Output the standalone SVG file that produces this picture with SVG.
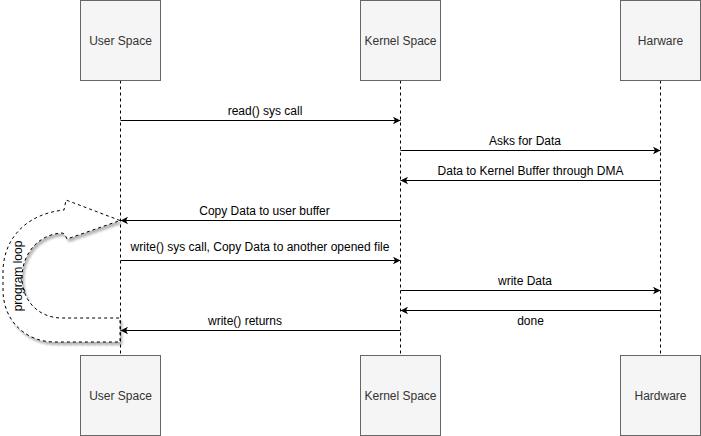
<svg xmlns="http://www.w3.org/2000/svg" width="701" height="436" viewBox="0 0 701 436">
<style>
.box{fill:#f5f5f5;stroke:#666666;stroke-width:1}
.boxtxt{font-family:"Liberation Sans",Arial,sans-serif;font-size:12px;fill:#333333;text-anchor:middle}
.life{stroke:#000;stroke-width:1;stroke-dasharray:3 3;fill:none}
.msg{stroke:#000;stroke-width:1;fill:none;marker-end:url(#arr)}
.lbl{font-family:"Liberation Sans",Arial,sans-serif;font-size:12px;fill:#000;text-anchor:middle}
</style>
<defs>
<marker id="arr" viewBox="-8 -4 9 8" refX="0" refY="0" markerWidth="9" markerHeight="8" orient="auto" markerUnits="userSpaceOnUse">
<path d="M0,0 L-7.5,-3.75 L-5.5,0 L-7.5,3.75 Z" fill="#000"/>
</marker>
<filter id="sh" x="-20%" y="-20%" width="140%" height="140%">
<feDropShadow dx="2" dy="3" stdDeviation="0.9" flood-color="#000" flood-opacity="0.28"/>
</filter>
</defs>
<rect width="701" height="436" fill="#ffffff"/>

<g id="loop">
<path d="M120,220.5 L66,200 L64,210 C25,214 3,240 3,272 L3,290 C3,320 25,342 55,342 L120,342 L120,318 L62,318 C38,318 22,300 22,278 C22,252 40,234 62,233 C64,233 66,236 67,239 Z" fill="#ffffff" stroke="#000" stroke-width="1" stroke-dasharray="3 3" filter="url(#sh)"/>
<text class="lbl" transform="translate(22,276) rotate(-90)">program loop</text>
</g>

<g id="lifelines">
<line class="life" x1="120.5" y1="80.5" x2="120.5" y2="355.5"/>
<line class="life" x1="400.5" y1="80.5" x2="400.5" y2="355.5"/>
<line class="life" x1="660.5" y1="80.5" x2="660.5" y2="355.5"/>
</g>

<g id="user-top"><rect class="box" x="80.5" y="0.5" width="80" height="80"/><text class="boxtxt" x="120.5" y="45">User Space</text></g>
<g id="kernel-top"><rect class="box" x="360.5" y="0.5" width="80" height="80"/><text class="boxtxt" x="400.5" y="45">Kernel Space</text></g>
<g id="hw-top"><rect class="box" x="620.5" y="0.5" width="80" height="80"/><text class="boxtxt" x="660.5" y="45">Harware</text></g>
<g id="user-bottom"><rect class="box" x="80.5" y="355.5" width="80" height="80"/><text class="boxtxt" x="120.5" y="400">User Space</text></g>
<g id="kernel-bottom"><rect class="box" x="360.5" y="355.5" width="80" height="80"/><text class="boxtxt" x="400.5" y="400">Kernel Space</text></g>
<g id="hw-bottom"><rect class="box" x="620.5" y="355.5" width="80" height="80"/><text class="boxtxt" x="660.5" y="400">Hardware</text></g>

<g id="connectors">
<line class="msg" x1="120.5" y1="120.5" x2="400.5" y2="120.5"/>
<text class="lbl" x="265" y="115">read() sys call</text>
<line class="msg" x1="400.5" y1="150.5" x2="660.5" y2="150.5"/>
<text class="lbl" x="525" y="145">Asks for Data</text>
<line class="msg" x1="660.5" y1="180.5" x2="400.5" y2="180.5"/>
<text class="lbl" x="530.5" y="175">Data to Kernel Buffer through DMA</text>
<line class="msg" x1="400.5" y1="220.5" x2="120.5" y2="220.5"/>
<text class="lbl" x="264.5" y="215">Copy Data to user buffer</text>
<line class="msg" x1="120.5" y1="260.5" x2="400.5" y2="260.5"/>
<text class="lbl" x="260" y="251">write() sys call, Copy Data to another opened file</text>
<line class="msg" x1="400.5" y1="290.5" x2="660.5" y2="290.5"/>
<text class="lbl" x="525" y="285">write Data</text>
<line class="msg" x1="660.5" y1="310.5" x2="400.5" y2="310.5"/>
<text class="lbl" x="530.5" y="325">done</text>
<line class="msg" x1="400.5" y1="330.5" x2="120.5" y2="330.5"/>
<text class="lbl" x="245" y="325">write() returns</text>
</g>
</svg>
